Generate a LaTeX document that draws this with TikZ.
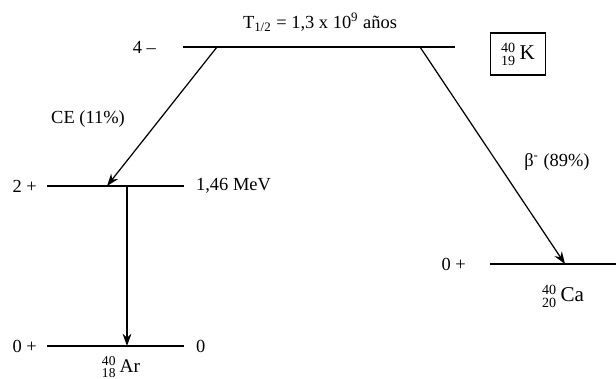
\documentclass[tikz,border=0pt]{standalone}
\usepackage{amsmath}
\usepackage{fontspec}
\setmainfont{Liberation Serif}
\usepackage{tikz}
\usetikzlibrary{arrows.meta, positioning}

\newcommand{\nuclide}[3]{$^{\text{#1}}_{\text{#2}}$\,#3}

\begin{document}
\begin{tikzpicture}[x=0.02cm, y=-0.02cm, >={Stealth[length=7pt, width=5pt]},
    level/.style={line width=1.6pt},
    thinlevel/.style={line width=0.8pt},
    decay/.style={->, line width=0.7pt},
    lbl/.style={inner sep=1pt, font=\fontsize{10.5}{12}\selectfont}]
    \useasboundingbox (0,0) rectangle (616,379);
    % niveles
    \coordinate (k-l) at (183,47);   \coordinate (k-r) at (455,47);
    \coordinate (ex-l) at (47,186);  \coordinate (ex-r) at (184,186);
    \coordinate (ar-l) at (47,346);  \coordinate (ar-r) at (184,346);
    \coordinate (ca-l) at (490,264); \coordinate (ca-r) at (616,264);
    \draw[level] (k-l) -- (k-r);
    \draw[thinlevel] (ex-l) -- (ex-r);
    \draw[level] (ar-l) -- (ar-r);
    \draw[level] (ca-l) -- (ca-r);
    % transiciones
    \coordinate (ce-a) at (217,47);   \coordinate (ce-b) at (107,186);
    \coordinate (beta-a) at (420,47); \coordinate (beta-b) at (565,264);
    \coordinate (g-a) at (127,186);   \coordinate (g-b) at (127,346);
    \draw[decay] (ce-a) -- (ce-b);
    \draw[decay] (beta-a) -- (beta-b);
    \draw[decay] (g-a) -- (g-b);
    % etiquetas
    \node[lbl, left=0.5cm of k-l] (spin-k) {4 --};
    \node[lbl, left=0.16cm of ex-l] (spin-ex) {2 +};
    \node[lbl, left=0.16cm of ar-l] (spin-ar) {0 +};
    \node[lbl, left=0.44cm of ca-l] (spin-ca) {0 +};
    \node[lbl, right=0.2cm of ex-r] (e-ex) {1,46 MeV};
    \node[lbl, right=0.2cm of ar-r] (e-ar) {0};
    \node[lbl] (thalf) at (320,22) {T\textsubscript{1/2} = 1,3 x 10\textsuperscript{9} años};
    \node[draw, line width=0.6pt, minimum width=1.1cm, minimum height=0.84cm,
          font=\fontsize{12}{14}\selectfont] (k) at (518,54) {\nuclide{40}{19}{K}};
    \node[lbl] (ce) at (88,119) {CE (11\%)};
    \node[lbl] (beta) at (557,162) {β\textsuperscript{-} (89\%)};
    \node[lbl, font=\fontsize{12}{14}\selectfont] (ca) at (563,296) {\nuclide{40}{20}{Ca}};
    \node[lbl, anchor=north, font=\fontsize{11}{13}\selectfont] (ar) at (121,354) {\nuclide{40}{18}{Ar}};
\end{tikzpicture}
\end{document}
